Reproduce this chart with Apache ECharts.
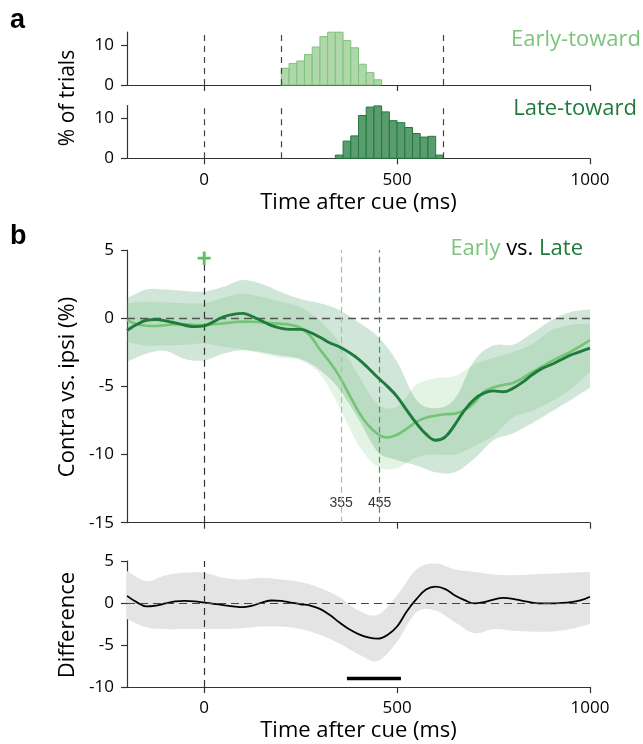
<!DOCTYPE html>
<html><head><meta charset="utf-8">
<script src="https://cdn.jsdelivr.net/npm/echarts@6/dist/echarts.min.js"></script>
<style>html,body{margin:0;padding:0;background:#fff}#c{width:643px;height:744px}</style>
</head><body><div id="c"></div>
<script>
// ---------------- data ----------------
const histBinWidth = 20;
const earlyBinStarts = [200,220,240,260,280,300,320,340,360,380,400,420,440];
const earlyHist = [4.2,5.4,6.0,7.6,9.5,12.1,13.2,13.2,11.1,9.3,5.2,3.1,1.3];
const lateBinStarts = [340,360,380,400,420,440,460,480,500,520,540,560,580,600];
const lateHist = [0.8,4.3,5.6,10.7,12.8,13.1,11.6,9.4,8.9,7.7,6.2,5.3,5.5,0.8];
const histMarkers = [0,200,620];

const lineTime = [-200,-175,-150,-125,-100,-75,-50,-25,0,25,50,75,100,125,150,175,200,225,250,275,300,325,350,375,400,425,450,475,500,525,550,575,600,625,650,675,700,725,750,775,800,825,850,875,900,925,950,975,1000];
const lateMean = [-0.9,-0.47,-0.15,-0.1,-0.2,-0.35,-0.52,-0.62,-0.57,-0.25,0.1,0.28,0.35,0.12,-0.22,-0.55,-0.75,-0.82,-0.82,-1.05,-1.4,-1.8,-2.1,-2.5,-3.0,-3.65,-4.35,-5.0,-5.75,-6.75,-7.7,-8.5,-8.95,-8.7,-7.8,-6.75,-5.95,-5.5,-5.33,-5.4,-5.15,-4.7,-4.15,-3.7,-3.4,-3.05,-2.7,-2.45,-2.2];
const earlyMean = [-0.13,-0.45,-0.55,-0.57,-0.52,-0.45,-0.45,-0.5,-0.5,-0.45,-0.38,-0.3,-0.25,-0.26,-0.3,-0.36,-0.42,-0.5,-0.72,-1.3,-2.3,-3.2,-4.25,-5.55,-6.85,-7.85,-8.5,-8.75,-8.55,-8.1,-7.6,-7.3,-7.15,-7.05,-7.0,-6.75,-6.2,-5.4,-5.08,-4.9,-4.75,-4.4,-3.95,-3.55,-3.15,-2.8,-2.45,-2.05,-1.6];

const bandTime = [-200,-150,-100,-50,0,50,100,150,200,250,300,350,400,450,500,550,600,650,700,750,800,850,900,950,1000];
const lateUpper = [1.46,2.1,2.1,2.0,1.95,2.3,2.8,2.5,1.9,1.4,1.1,0.6,-0.3,-1.35,-3.2,-6.0,-6.6,-5.9,-3.1,-2.0,-1.95,-1.1,-0.15,0.45,0.65];
const lateLower = [-3.2,-2.6,-2.4,-3.0,-3.1,-2.6,-2.35,-2.5,-2.75,-3.0,-3.8,-5.2,-7.4,-9.8,-10.4,-10.8,-11.3,-11.3,-10.3,-8.95,-8.45,-7.7,-6.85,-6.0,-5.1];
const earlyUpper = [1.1,1.2,1.15,1.1,1.1,1.5,1.8,1.55,1.2,0.8,-0.2,-1.8,-4.2,-6.3,-6.5,-4.9,-4.4,-4.25,-3.4,-2.9,-2.5,-1.9,-0.9,-0.5,-0.4];
const earlyLower = [-1.75,-2.0,-2.0,-1.95,-1.85,-2.1,-2.3,-2.6,-2.9,-3.1,-4.1,-6.5,-9.3,-10.9,-11.0,-10.2,-10.0,-10.0,-9.4,-8.6,-7.3,-6.8,-6.1,-5.2,-3.95];
const latencyMarks = [355,455];
const cuePlus = [[0,4.4]];

const diffMean = [0.85,0.1,-0.4,-0.3,-0.05,0.2,0.25,0.2,0.05,-0.1,-0.25,-0.4,-0.5,-0.3,0.05,0.3,0.25,0.05,-0.15,-0.3,-0.7,-1.4,-2.3,-3.1,-3.7,-4.1,-4.25,-3.8,-2.8,-1.0,0.45,1.6,1.95,1.65,0.9,0.35,-0.05,0.1,0.4,0.6,0.5,0.25,0.05,-0.05,-0.05,0.0,0.1,0.3,0.75];
const diffUpper = [3.8,2.6,3.3,3.6,3.6,3.0,2.8,3.0,2.8,2.5,1.8,0.7,-0.9,-1.4,0.9,4.0,4.7,4.0,3.7,3.4,3.3,3.4,3.5,3.6,3.7];
const diffLower = [-1.9,-2.9,-3.1,-3.1,-3.1,-3.1,-3.0,-2.8,-2.8,-3.1,-3.8,-4.8,-6.1,-6.9,-4.6,-1.1,-0.9,-2.3,-3.6,-3.1,-3.3,-3.4,-3.4,-3.1,-2.5];
const sigBar = [[370,-9],[510,-9]];

const xTicks = [0,500,1000];
const histYTicks = [0,10];
const mainYTicks = [-15,-10,-5,0,5];
const diffYTicks = [-10,-5,0,5];

// ---------------- styles ----------------
const FONT = 'Open Sans';
const AX = '#333';
const C_EARLY = '#74c476', C_LATE = '#1e7b3c';

const chart = echarts.init(document.getElementById('c'), null, {renderer:'canvas', width:643, height:744});

const gridBase = {left:127, width:463, outerBoundsMode:'none', containLabel:false};
const grids = [
  Object.assign({top:32.2, height:52.8}, gridBase),
  Object.assign({top:105.5, height:52.8}, gridBase),
  Object.assign({top:250, height:272.7}, gridBase),
  Object.assign({top:561, height:126}, gridBase)
];

function xAx(gi, showLabel, name){
  return {type:'value', gridIndex:gi, min:-200, max:1000,
    axisLine:{onZero:false, lineStyle:{color:AX, width:1.2}},
    axisTick:{show:true, customValues:xTicks, length:6, inside:false, lineStyle:{color:AX, width:1.2}},
    axisLabel:{show:showLabel, customValues:xTicks, formatter:v=>String(v), color:'#000', fontSize:17, fontFamily:FONT, margin:13},
    splitLine:{show:false},
    name: name || '', nameLocation:'middle', nameGap:33,
    nameTextStyle:{color:'#000', fontSize:22, fontFamily:FONT}
  };
}
function yAx(gi, min, max, ticks){
  return {type:'value', gridIndex:gi, min, max,
    axisLine:{show:true, onZero:false, lineStyle:{color:AX, width:1.2}},
    axisTick:{show:true, customValues:ticks, length:6, lineStyle:{color:AX, width:1.2}},
    axisLabel:{customValues:ticks, formatter:v=>String(v), color:'#000', fontSize:17, fontFamily:FONT, margin:13},
    splitLine:{show:false}
  };
}

function histSeries(gi, starts, heights, fill, stroke, marks){
  return {type:'custom', xAxisIndex:gi, yAxisIndex:gi, silent:true, z:2,
    data: starts.map((s,i)=>[s, heights[i]]),
    renderItem:(params, api)=>{
      const s = api.value(0), h = api.value(1);
      const a = api.coord([s, 0]), b = api.coord([s + histBinWidth, h]);
      return {type:'rect', shape:{x:a[0], y:b[1], width:b[0]-a[0], height:a[1]-b[1]},
        style:{fill:fill, stroke:stroke, lineWidth:1}};
    },
    markLine:{silent:true, symbol:'none', label:{show:false},
      lineStyle:{color:'#444', type:[6,5], width:1.2},
      data: marks.map(v=>({xAxis:v}))}
  };
}

// Catmull-Rom sampling in pixel space (rendering only)
function spline(pts, steps){
  const out = [];
  for (let i = 0; i < pts.length - 1; i++){
    const p0 = pts[Math.max(i-1,0)], p1 = pts[i], p2 = pts[i+1], p3 = pts[Math.min(i+2, pts.length-1)];
    for (let s = 0; s < steps; s++){
      const t = s/steps, t2 = t*t, t3 = t2*t;
      const f = (a,b,c,d)=>0.5*((2*b)+(-a+c)*t+(2*a-5*b+4*c-d)*t2+(-a+3*b-3*c+d)*t3);
      out.push([f(p0[0],p1[0],p2[0],p3[0]), f(p0[1],p1[1],p2[1],p3[1])]);
    }
  }
  out.push(pts[pts.length-1]);
  return out;
}
function bandSeries(gi, times, lower, upper, color, z){
  return {type:'custom', xAxisIndex:gi, yAxisIndex:gi, silent:true, z:z,
    data: times.map((t,i)=>[t, lower[i], upper[i]]),
    encode:{x:0, y:[1,2]},
    renderItem:(params, api)=>{
      if (params.dataIndex !== 0) return null;
      const up = spline(times.map((t,i)=>api.coord([t, upper[i]])), 12);
      const lo = spline(times.map((t,i)=>api.coord([t, lower[i]])), 12).reverse();
      return {type:'polygon', shape:{points: up.concat(lo)}, style:{fill:color}};
    }
  };
}

const series = [
  histSeries(0, earlyBinStarts, earlyHist, '#afd7a9', '#7cc47a', histMarkers),
  histSeries(1, lateBinStarts, lateHist, '#5b9c6f', '#1f7a3b', histMarkers),
  bandSeries(2, bandTime, earlyLower, earlyUpper, 'rgba(116,196,118,0.2)', 1),
  bandSeries(2, bandTime, lateLower, lateUpper, 'rgba(35,139,69,0.21)', 1),
  {type:'line', xAxisIndex:2, yAxisIndex:2, data:[], silent:true, z:3,
    markLine:{silent:true, symbol:'none', label:{show:false},
      data:[
        {xAxis:0, lineStyle:{color:'#333', type:[7,5], width:1.2}},
        {yAxis:0, lineStyle:{color:'#555', type:[8,5], width:1.3}},
        {xAxis:latencyMarks[0], lineStyle:{color:'#8fd18c', type:[6,4], width:1.2}},
        {xAxis:latencyMarks[1], lineStyle:{color:'#35a153', type:[6,4], width:1.2}}
      ]}
  },
  {type:'scatter', xAxisIndex:2, yAxisIndex:2, data:cuePlus, silent:true, z:8,
    symbol:'path://M0,3.9H10V6.1H0Z M3.9,0H6.1V10H3.9Z', symbolSize:13,
    itemStyle:{color:'#5fbf63', opacity:1}},
  {type:'scatter', xAxisIndex:2, yAxisIndex:2, silent:true, z:3, symbolSize:0,
    data: latencyMarks.map(v=>[v,-13.6]),
    label:{show:true, position:'inside', formatter:p=>String(p.value[0]), color:'#000',
      fontSize:14, fontFamily:'Liberation Sans'}},
  {type:'line', xAxisIndex:2, yAxisIndex:2, name:'early', data: lineTime.map((t,i)=>[t, earlyMean[i]]),
    symbol:'none', smooth:0.4, silent:true, z:4, lineStyle:{color:C_EARLY, width:2.6}},
  {type:'line', xAxisIndex:2, yAxisIndex:2, name:'late', data: lineTime.map((t,i)=>[t, lateMean[i]]),
    symbol:'none', smooth:0.4, silent:true, z:5, lineStyle:{color:C_LATE, width:2.9}},
  bandSeries(3, bandTime, diffLower, diffUpper, '#e4e4e4', 1),
  {type:'line', xAxisIndex:3, yAxisIndex:3, data: sigBar, symbol:'none', silent:true, z:3,
    lineStyle:{color:'#000', width:3.5},
    markLine:{silent:true, symbol:'none', label:{show:false},
      data:[
        {xAxis:0, lineStyle:{color:'#333', type:[7,5], width:1.2}},
        {yAxis:0, lineStyle:{color:'#444', type:[8,5], width:1.2}}
      ]}
  },
  {type:'line', xAxisIndex:3, yAxisIndex:3, name:'diff', data: lineTime.map((t,i)=>[t, diffMean[i]]),
    symbol:'none', smooth:0.4, silent:true, z:4, lineStyle:{color:'#000', width:1.8}}
];

const option = {
  animation:false,
  backgroundColor:'#fff',
  grid: grids,
  xAxis:[xAx(0,false), xAx(1,true,'Time after cue (ms)'), xAx(2,false), xAx(3,true,'Time after cue (ms)')],
  yAxis:[yAx(0,0,13.2,histYTicks), yAx(1,0,13.2,histYTicks), yAx(2,-15,5,mainYTicks), yAx(3,-10,5,diffYTicks)],
  series: series,
  graphic:[
    {type:'text', left:10, top:7, style:{text:'a', font:'bold 27px "Liberation Sans"', fill:'#000'}},
    {type:'text', left:10, top:223, style:{text:'b', font:'bold 27px "Liberation Sans"', fill:'#000'}},
    {type:'text', x:641, y:40, style:{text:'Early-toward', align:'right', verticalAlign:'middle', font:'22px "Open Sans"', fill:'#7cc47a'}},
    {type:'text', x:637, y:109, style:{text:'Late-toward', align:'right', verticalAlign:'middle', font:'22px "Open Sans"', fill:'#1f7a3b'}},
    {type:'text', x:583, y:249, style:{text:'{e|Early} {v|vs.} {l|Late}', align:'right', verticalAlign:'middle',
      font:'22px "Open Sans"', rich:{
        e:{fill:'#7cc47a', fontSize:22, fontFamily:'Open Sans'},
        v:{fill:'#000', fontSize:22, fontFamily:'Open Sans'},
        l:{fill:'#1f7a3b', fontSize:22, fontFamily:'Open Sans'}}}},
    {type:'text', x:68, y:98, rotation:Math.PI/2, style:{text:'% of trials', align:'center', verticalAlign:'middle', font:'21px "Open Sans"', fill:'#000'}},
    {type:'text', x:68, y:387, rotation:Math.PI/2, style:{text:'Contra vs. ipsi (%)', align:'center', verticalAlign:'middle', font:'22px "Open Sans"', fill:'#000'}},
    {type:'text', x:68, y:625, rotation:Math.PI/2, style:{text:'Difference', align:'center', verticalAlign:'middle', font:'22px "Open Sans"', fill:'#000'}}
  ]
};
chart.setOption(option);
</script>
</body></html>
